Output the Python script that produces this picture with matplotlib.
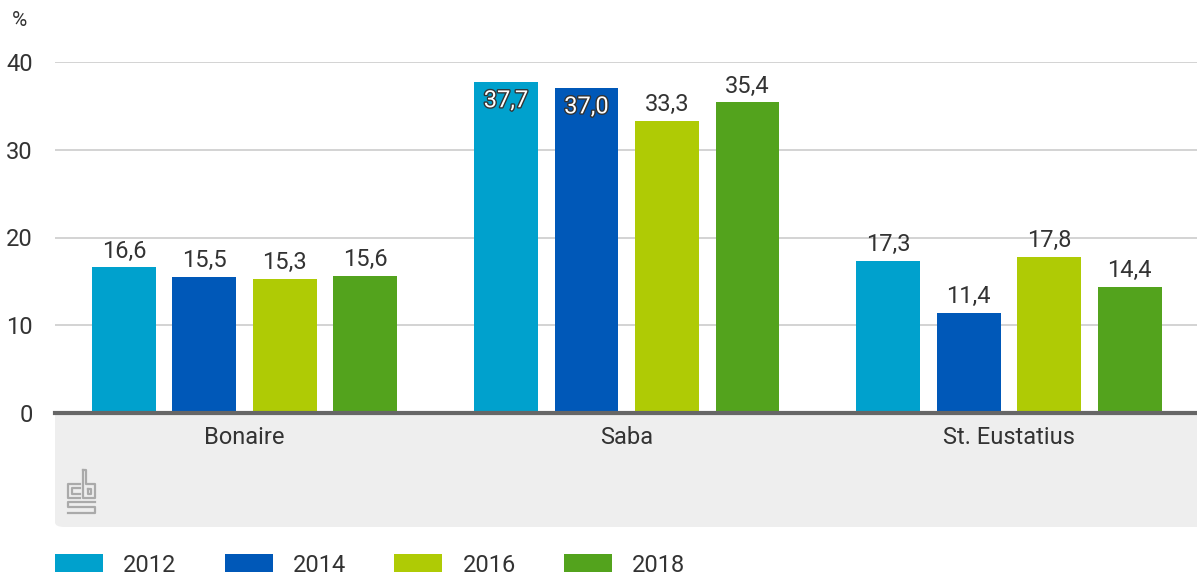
import numpy as np
import matplotlib.pyplot as plt
import matplotlib.patheffects as pe
from matplotlib.patches import FancyBboxPatch
from matplotlib.lines import Line2D

plt.rcParams['font.family'] = ['Roboto', 'DejaVu Sans']

islands = ['Bonaire', 'Saba', 'St. Eustatius']
years = ['2012', '2014', '2016', '2018']
values = [
    [16.6, 37.7, 17.3],
    [15.5, 37.0, 11.4],
    [15.3, 33.3, 17.8],
    [15.6, 35.4, 14.4],
]
labels = [
    ['16,6', '37,7', '17,3'],
    ['15,5', '37,0', '11,4'],
    ['15,3', '33,3', '17,8'],
    ['15,6', '35,4', '14,4'],
]
colors = ['#00a1cd', '#0058b8', '#afcb05', '#53a31d']
txt = '#333333'
fs = 17

W, H = 1197, 581
fig = plt.figure(figsize=(W / 100, H / 100), dpi=100)

def px(x, y):
    return x / W, 1 - y / H

# grey band under the axis
x0, y0 = px(55, 527)
band = FancyBboxPatch((x0, y0), 1.2, (527 - 395) / H, boxstyle='round,pad=0,rounding_size=0.008',
                      transform=fig.transFigure, facecolor='#eeeeee', edgecolor='none', zorder=-5)
fig.patches.append(band)

ax = fig.add_axes([55 / W, 1 - 413 / H, 1 - 55 / W, (413 - 62) / H])
ax.set_facecolor('white')

x = np.arange(len(islands))
width = 0.167
step = 0.2106
bars = []
for i, yr in enumerate(years):
    pos = x + (i - 1.5) * step
    b = ax.bar(pos, values[i], width, color=colors[i], label=yr, zorder=3)
    bars.append(b)
    for p, v, lab in zip(pos, values[i], labels[i]):
        if v > 36:
            ax.text(p, v - 0.8, lab, ha='center', va='top', fontsize=fs, color='white', zorder=4,
                    path_effects=[pe.withStroke(linewidth=2, foreground='#333333')])
        else:
            ax.text(p, v + 0.55, lab, ha='center', va='bottom', fontsize=fs, color=txt, zorder=4)

ax.set_xlim(-0.496, 2.492)
ax.set_ylim(0, 40)
ax.set_yticks([0, 10, 20, 30, 40])
ax.set_yticklabels(['0', '10', '20', '30', '40'])
ax.yaxis.grid(True, color='#c8c8c8', linewidth=1.1, zorder=0)
ax.set_axisbelow(True)
for s in ['top', 'right', 'left']:
    ax.spines[s].set_visible(False)
ax.spines['bottom'].set_color('#666666')
ax.spines['bottom'].set_linewidth(3)
ax.spines['bottom'].set_zorder(5)
ax.set_xticks(x)
ax.set_xticklabels(islands)
ax.tick_params(axis='x', length=0, pad=9, labelsize=fs, labelcolor=txt)
ax.tick_params(axis='y', length=0, pad=16, labelsize=fs, labelcolor=txt)

fig.text(*px(12, 21), '%', fontsize=15, color=txt, va='center', ha='left')

# cbs logo (rough outline)
lc = '#aaaaaa'
logo = [
    [(80, 484), (68, 484), (68, 498), (80, 498)],
    [(80, 488), (72, 488), (72, 494), (80, 494)],
    [(83, 470), (83, 498), (95, 498), (95, 484), (86, 484), (86, 470), (83, 470)],
    [(88, 489), (91, 489), (91, 494), (88, 494), (88, 489)],
    [(95, 502), (68, 502), (68, 507), (95, 507), (95, 513), (68, 513)],
]
for seg in logo:
    xs, ys = zip(*[px(a, b) for a, b in seg])
    fig.add_artist(Line2D(xs, ys, transform=fig.transFigure, color=lc, linewidth=1.6))

fig.legend(handles=bars, labels=years, loc='center left', bbox_to_anchor=px(55, 565), ncol=4,
           frameon=False, fontsize=fs, handlelength=2.03, handleheight=0.8, handletextpad=0.85,
           columnspacing=2.05, borderpad=0, borderaxespad=0, labelcolor=txt)

fig.savefig('out.png', dpi=100)
